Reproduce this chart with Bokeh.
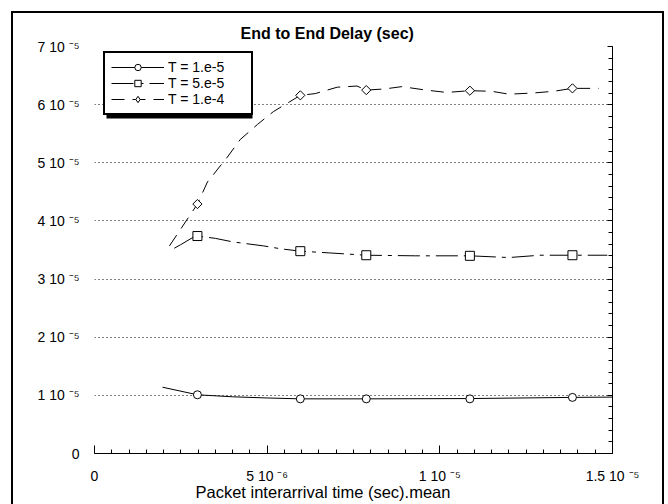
import math
from bokeh.plotting import figure
from bokeh.models import (Range1d, FixedTicker, Legend, LegendItem, LinearAxis, Title,
                          BoxAnnotation, CustomJSTickFormatter)
from bokeh.embed import file_html
from bokeh.resources import INLINE

# ---------------- data ----------------
x_marks = [2.98e-6, 5.96e-6, 7.87e-6, 10.87e-6, 13.84e-6]
y_marks_t1 = [1.01e-5, 0.94e-5, 0.94e-5, 0.94e-5, 0.965e-5]
y_marks_t5 = [3.74e-5, 3.48e-5, 3.41e-5, 3.40e-5, 3.41e-5]
y_marks_t10 = [4.29e-5, 6.16e-5, 6.25e-5, 6.24e-5, 6.28e-5]

x_line_t1 = [1.97e-6, 2.98e-6, 4.0e-6, 5.0e-6, 5.96e-6, 7.87e-6, 10.87e-6, 13.84e-6, 15.0e-6]
y_line_t1 = [1.14e-5, 1.01e-5, 0.975e-5, 0.955e-5, 0.94e-5, 0.94e-5, 0.945e-5, 0.965e-5, 0.97e-5]

x_line_t5 = [2.31e-6, 2.49e-6, 2.86e-6, 2.98e-6, 3.5e-6, 4.0e-6, 4.9e-6, 5.4e-6, 5.96e-6,
             6.8e-6, 7.87e-6, 9.3e-6, 10.87e-6, 12.0e-6, 12.9e-6, 13.84e-6, 14.85e-6]
y_line_t5 = [3.53e-5, 3.59e-5, 3.72e-5, 3.74e-5, 3.70e-5, 3.64e-5, 3.57e-5, 3.52e-5, 3.48e-5,
             3.45e-5, 3.41e-5, 3.40e-5, 3.40e-5, 3.37e-5, 3.41e-5, 3.41e-5, 3.41e-5]

x_line_t10 = [2.17e-6, 2.98e-6, 3.27e-6, 3.85e-6, 4.22e-6, 4.72e-6, 5.18e-6, 5.96e-6, 6.39e-6,
              7.03e-6, 7.6e-6, 7.87e-6, 8.4e-6, 8.9e-6, 9.6e-6, 10.2e-6, 10.87e-6, 11.5e-6,
              12.0e-6, 12.7e-6, 13.3e-6, 13.84e-6, 14.6e-6]
y_line_t10 = [3.57e-5, 4.29e-5, 4.67e-5, 5.10e-5, 5.40e-5, 5.66e-5, 5.88e-5, 6.16e-5, 6.19e-5,
              6.30e-5, 6.32e-5, 6.25e-5, 6.27e-5, 6.31e-5, 6.25e-5, 6.21e-5, 6.24e-5, 6.23e-5,
              6.18e-5, 6.20e-5, 6.23e-5, 6.28e-5, 6.28e-5]

series_labels = ["T = 1.e-5", "T = 5.e-5", "T = 1.e-4"]

x_ticks = [0, 5e-6, 1e-5, 1.5e-5]
x_tick_labels = ["0", "5 10 \u207b\u2076", "1 10 \u207b\u2075", "1.5 10 \u207b\u2075"]

y_ticks = [0, 1e-5, 2e-5, 3e-5, 4e-5, 5e-5, 6e-5, 7e-5]
y_tick_labels = ["0"] + ["%d 10 \u207b\u2075" % k for k in range(1, 8)]

title_text = "End to End Delay (sec)"
xlabel_text = "Packet interarrival time (sec).mean"

# ---------------- figure ----------------
FONT = "Liberation Sans"
p = figure(width=649, height=491, x_range=Range1d(0, 1.5e-5), y_range=Range1d(0, 7e-5),
           output_backend="svg", toolbar_location=None,
           x_axis_location="below", y_axis_location="right",
           min_border_left=81, min_border_right=50, min_border_top=33, min_border_bottom=51,
           outline_line_color=None, background_fill_color="white", border_fill_color="white",
           margin=(13, 0, 0, 13), styles={"outline": "2px solid black"})

# title
p.title.text = title_text
p.title.align = "left"
p.title.offset = 146
p.title.text_font = FONT
p.title.text_font_size = "16px"
p.title.text_font_style = "bold"
p.title.text_color = "black"
p.title.standoff = 10

# bottom axis
xa = p.xaxis[0]
xa.ticker = FixedTicker(ticks=x_ticks, minor_ticks=[i * 5e-7 for i in range(31)])
xa.major_label_overrides = dict(zip(x_ticks, x_tick_labels))
xa.major_tick_in = 8
xa.major_tick_out = 0
xa.minor_tick_in = 4
xa.minor_tick_out = 0
xa.major_label_standoff = 14
xa.major_label_text_font = FONT
xa.major_label_text_font_size = "14px"
xa.major_label_text_color = "black"
xa.axis_line_color = "black"
xa.major_tick_line_color = "black"
xa.minor_tick_line_color = "black"

# right axis (ticks only)
ya = p.yaxis[0]
ya.ticker = FixedTicker(ticks=y_ticks, minor_ticks=[i * 2e-6 for i in range(36)])
ya.formatter = CustomJSTickFormatter(code="return ''")
ya.major_tick_in = 5
ya.major_tick_out = 0
ya.minor_tick_in = 4
ya.minor_tick_out = 0
ya.axis_line_color = "black"
ya.major_tick_line_color = "black"
ya.minor_tick_line_color = "black"

# left axis (labels only)
la = LinearAxis(ticker=FixedTicker(ticks=y_ticks, minor_ticks=[]),
                major_label_overrides=dict(zip(y_ticks, y_tick_labels)),
                axis_line_color=None, major_tick_line_color=None, minor_tick_line_color=None,
                major_tick_in=0, major_tick_out=0, minor_tick_in=0, minor_tick_out=0,
                major_label_standoff=15, major_label_text_font=FONT,
                major_label_text_font_size="14px", major_label_text_color="black")
p.add_layout(la, "left")

# x axis title
p.add_layout(Title(text=xlabel_text, align="left", offset=101, text_font=FONT,
                   text_font_size="16.5px", text_font_style="normal", text_color="black",
                   vertical_align="top", standoff=-8), "below")

p.xgrid.visible = False
p.ygrid.grid_line_color = "black"
p.ygrid.grid_line_dash = "1 3"
p.ygrid.grid_line_width = 1

# ---------------- series ----------------
l1 = p.line(x_line_t1, y_line_t1, line_color="black", line_width=1)
s1 = p.scatter(x_marks, y_marks_t1, marker="circle", size=8, line_color="black",
               fill_color="white", line_width=1)
l2 = p.line(x_line_t5, y_line_t5, line_color="black", line_width=1, line_dash="22 6 4 6")
s2 = p.scatter(x_marks, y_marks_t5, marker="square", size=9, line_color="black",
               fill_color="white", line_width=1)
l3 = p.line(x_line_t10, y_line_t10, line_color="black", line_width=1, line_dash="13 8")
# diamond-shaped marker used for the legend sample (hidden under the rotated squares)
d3 = p.scatter(x_marks, y_marks_t10, marker="diamond", size=7, line_color="black",
               fill_color="white", line_width=1)
s3 = p.scatter(x_marks, y_marks_t10, marker="square", angle=math.pi / 4, size=6.5,
               line_color="black", fill_color="white", line_width=1)

# ---------------- legend with drop shadow ----------------
p.add_layout(BoxAnnotation(left=93, right=239, top=42, bottom=105,
                           left_units="canvas", right_units="canvas",
                           top_units="canvas", bottom_units="canvas",
                           fill_color="black", fill_alpha=1, line_alpha=0))

legend = Legend(items=[LegendItem(label=series_labels[0], renderers=[l1, s1]),
                       LegendItem(label=series_labels[1], renderers=[l2, s2]),
                       LegendItem(label=series_labels[2], renderers=[l3, d3])],
                location=(9, 338), padding=6, spacing=0, margin=0,
                glyph_width=53, glyph_height=16, label_height=16, label_width=77,
                label_standoff=4, label_text_font=FONT, label_text_font_size="14px",
                label_text_color="black",
                border_line_color="black", border_line_width=2, border_line_alpha=1,
                background_fill_color="white", background_fill_alpha=1)
p.add_layout(legend)

open("out.html", "w").write(file_html(p, INLINE))
